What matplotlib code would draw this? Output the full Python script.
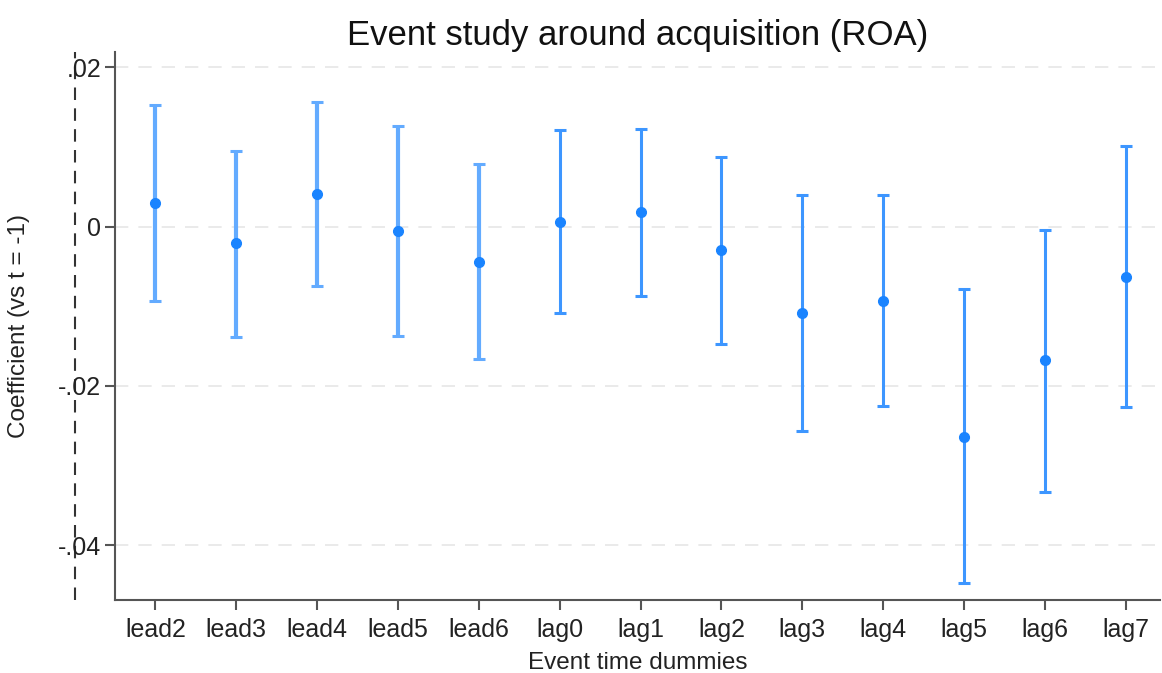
import matplotlib
matplotlib.use("Agg")
import matplotlib.pyplot as plt
import numpy as np

plt.rcParams['font.family'] = ['Liberation Sans', 'DejaVu Sans']

labels = ["lead2", "lead3", "lead4", "lead5", "lead6", "lag0", "lag1",
          "lag2", "lag3", "lag4", "lag5", "lag6", "lag7"]
coef = [0.0029, -0.0021, 0.0041, -0.0005, -0.0044, 0.0006, 0.0018,
        -0.0030, -0.0108, -0.0093, -0.0264, -0.0168, -0.0063]
upper = [0.0153, 0.0095, 0.0157, 0.0126, 0.0079, 0.0121, 0.0122,
         0.0087, 0.0040, 0.0040, -0.0079, -0.0004, 0.0101]
lower = [-0.0094, -0.0139, -0.0075, -0.0137, -0.0166, -0.0109, -0.0087,
         -0.0148, -0.0257, -0.0226, -0.0448, -0.0334, -0.0227]
yticks = [0.02, 0.0, -0.02, -0.04]
yticklabels = [".02", "0", "-.02", "-.04"]

fig = plt.figure(figsize=(11.62, 6.73), dpi=100)
ax = fig.add_axes([0.099, 0.1085, 0.899, 0.814])

x = np.arange(len(labels))
coef_a = np.array(coef)
err = np.vstack([coef_a - np.array(lower), np.array(upper) - coef_a])

for i in range(len(labels)):
    is_lead = labels[i].startswith("lead")
    c = '#63abff' if is_lead else '#3d96ff'
    lw = 3.0 if is_lead else 2.2
    ax.errorbar(x[i], coef[i], yerr=err[:, i:i+1], fmt='none', ecolor=c,
                elinewidth=lw, capsize=4, capthick=2.2, zorder=3)
ax.plot(x, coef, 'o', color='#1a84ff', markersize=7, zorder=4)

ax.axvline(-1, color='#333333', linestyle=(0, (6, 4)), linewidth=1.5,
           clip_on=False, zorder=0.1)

ax.set_xlim(-0.5, 12.42)
ax.set_ylim(-0.0469, 0.0219)
ax.set_yticks(yticks)
ax.set_yticklabels(yticklabels)
ax.set_xticks(x)
ax.set_xticklabels(labels)
ax.grid(axis='y', color='#e6e6e6', linestyle=(0, (8, 6)), linewidth=1.2)
ax.set_axisbelow(True)
for s in ['top', 'right']:
    ax.spines[s].set_visible(False)
for s in ['left', 'bottom']:
    ax.spines[s].set_color('#555555')
    ax.spines[s].set_linewidth(1.5)
ax.tick_params(axis='both', labelsize=18, colors='#555555', labelcolor='#222222',
               length=7, width=1.5, direction='out')
ax.tick_params(axis='y', pad=3)
ax.tick_params(axis='x', pad=6)

ax.set_title("Event study around acquisition (ROA)", fontsize=25, color='#111111', pad=3)
ax.set_xlabel("Event time dummies", fontsize=17.5, color='#222222', labelpad=7)
ax.set_ylabel("Coefficient (vs t = -1)", fontsize=17.5, color='#222222')
ax.yaxis.set_label_coords(-0.081, 0.5)

fig.savefig("out.png", dpi=100, facecolor='white')
